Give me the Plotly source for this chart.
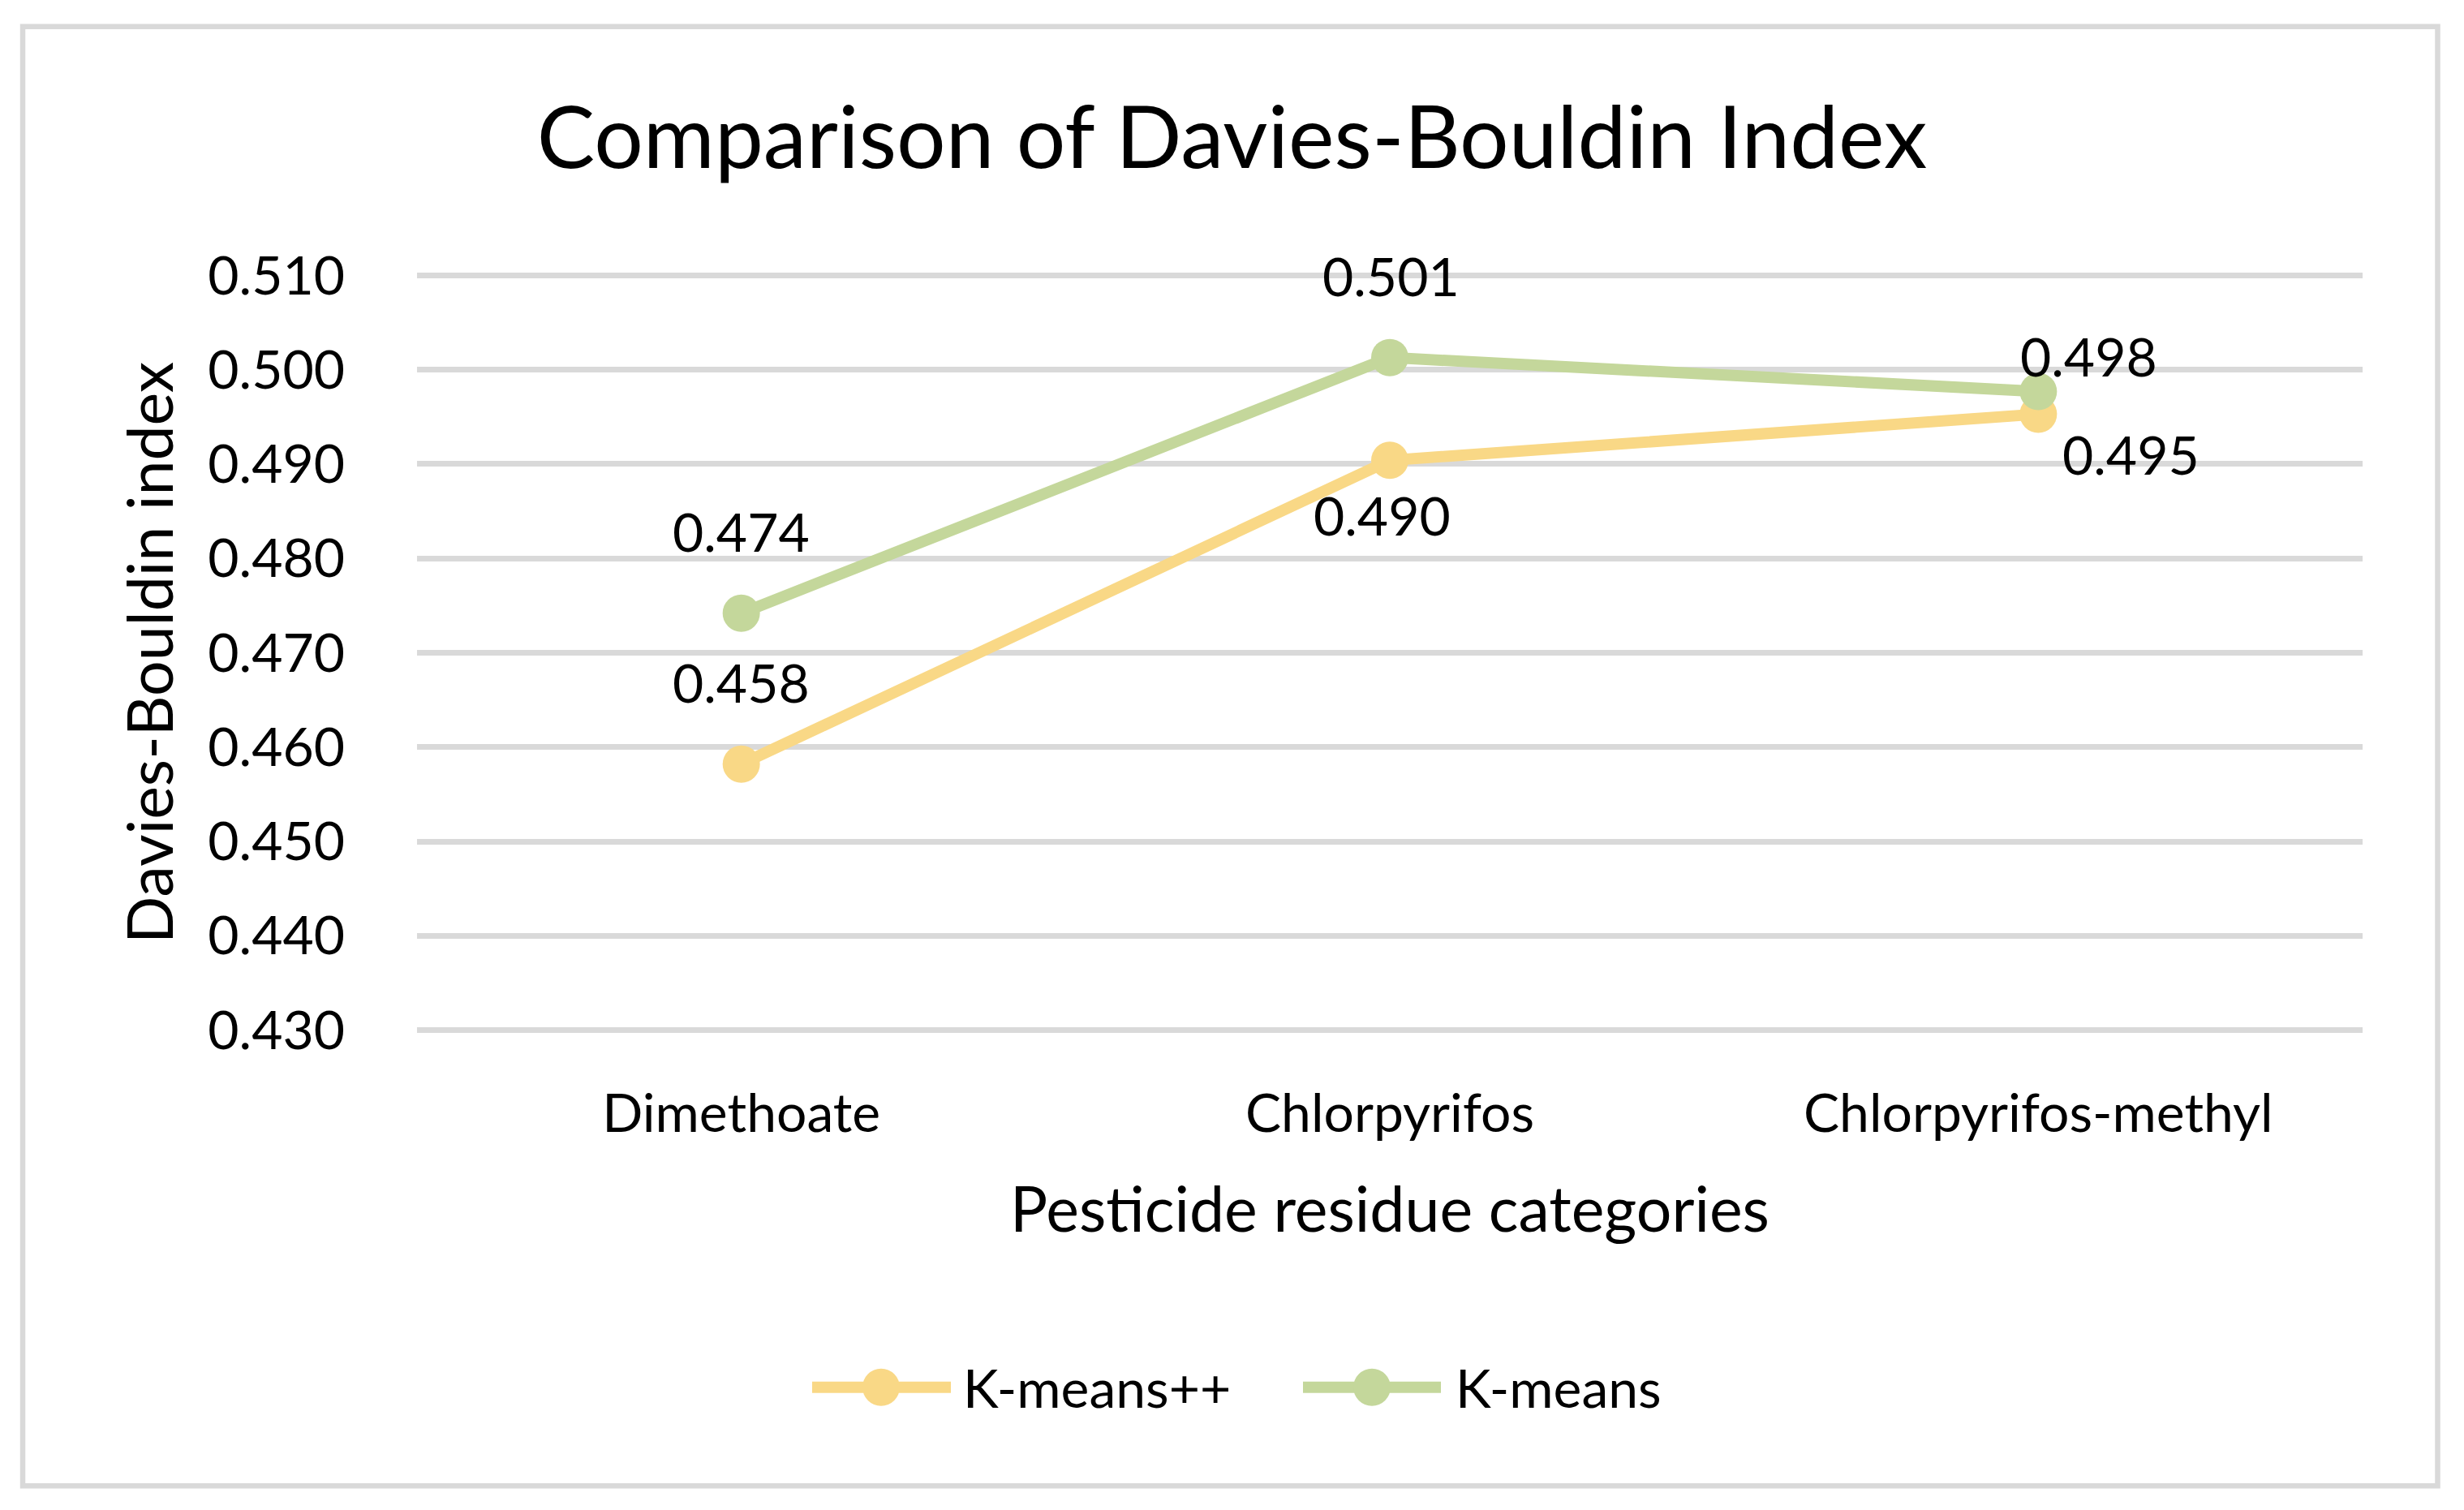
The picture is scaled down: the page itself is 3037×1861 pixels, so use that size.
import plotly.graph_objects as go

# ---- data ----
categories = ["Dimethoate", "Chlorpyrifos", "Chlorpyrifos-methyl"]
kmeanspp = [0.4582, 0.4904, 0.4953]
kmeans = [0.4742, 0.5013, 0.4977]
series_names = ["K-means++", "K-means"]
y_ticks = [0.430, 0.440, 0.450, 0.460, 0.470, 0.480, 0.490, 0.500, 0.510]

# label offsets (px) for data labels: (dx, dy up-positive)
pp_offsets = [(0, 101), (-10, -67), (114, -49)]
km_offsets = [(0, 101), (1, 101), (62, 44)]

# ---- style ----
W, H = 3037, 1861
Y_MIN, Y_MAX = 0.430, 0.510
Y_PAD = 0.0003                     # keeps edge gridlines from being clipped
PX_PER_UNIT = 930.5 / (Y_MAX - Y_MIN)
L, R = 514, 2912
T = 339 - Y_PAD * PX_PER_UNIT
B = 1269.5 + Y_PAD * PX_PER_UNIT
FONT = "Lato"
C_PP = "#F9D886"
C_KM = "#C4D79B"
GRID = "#D9D9D9"


def px_x(x):
    return (x - L) / (R - L)


def px_y(y):
    return (B - y) / (B - T)


fig = go.Figure()
for name, vals, col in [(series_names[0], kmeanspp, C_PP), (series_names[1], kmeans, C_KM)]:
    fig.add_trace(go.Scatter(
        x=categories, y=vals, name=name, mode="lines+markers",
        line=dict(color=col, width=14),
        marker=dict(color=col, size=46),
        showlegend=False, cliponaxis=False,
    ))

annotations = []
for vals, offs in [(kmeanspp, pp_offsets), (kmeans, km_offsets)]:
    for c, v, (dx, dy) in zip(categories, vals, offs):
        annotations.append(dict(
            x=c, y=v, xref="x", yref="y", text=f"{v:.3f}", showarrow=False,
            xanchor="center", yanchor="middle", xshift=dx, yshift=dy,
            font=dict(family=FONT, size=66, color="#000000"),
        ))

# custom legend (long line samples like the original)
shapes = []
legend_items = [
    (series_names[0], C_PP, 1001, 1172, 1086, 1185),
    (series_names[1], C_KM, 1606, 1776, 1691, 1792),
]
ly = 1710
for name, col, x0, x1, xm, xt in legend_items:
    shapes.append(dict(type="line", xref="paper", yref="paper",
                       x0=px_x(x0), x1=px_x(x1), y0=px_y(ly), y1=px_y(ly),
                       line=dict(color=col, width=14)))
    shapes.append(dict(type="circle", xref="paper", yref="paper",
                       x0=px_x(xm - 23), x1=px_x(xm + 23), y0=px_y(ly + 23), y1=px_y(ly - 23),
                       fillcolor=col, line=dict(width=0)))
    annotations.append(dict(x=px_x(xt), y=px_y(ly), xref="paper", yref="paper",
                            text=name, showarrow=False, xanchor="left", yanchor="middle",
                            font=dict(family=FONT, size=66, color="#000000")))

# outer chart border
shapes.append(dict(type="rect", xref="paper", yref="paper",
                   x0=px_x(28), x1=px_x(3004.5), y0=px_y(1831.5), y1=px_y(32),
                   line=dict(color=GRID, width=6.5), layer="below"))

fig.update_layout(
    width=W, height=H, autosize=False,
    margin=dict(l=L, r=W - R, t=T, b=H - B, pad=0),
    paper_bgcolor="white", plot_bgcolor="white",
    font=dict(family=FONT, color="#000000"),
    title=dict(text="Comparison of Davies-Bouldin Index", x=0.5, xanchor="center",
               y=1 - 170 / H, yanchor="middle", font=dict(size=107, family=FONT)),
    xaxis=dict(type="category", range=[-0.5, 2.5], showgrid=False, showline=False,
               zeroline=False, ticks="", ticklabelstandoff=55,
               tickfont=dict(size=66, family=FONT),
               title=dict(text="Pesticide residue categories", font=dict(size=77, family=FONT),
                          standoff=56)),
    yaxis=dict(range=[Y_MIN - Y_PAD, Y_MAX + Y_PAD], tickvals=y_ticks, tickformat=".3f",
               showgrid=True, gridcolor=GRID, gridwidth=6.5, showline=False,
               zeroline=False, ticks="", ticklabelstandoff=88,
               tickfont=dict(size=66, family=FONT),
               title=dict(text="Davies-Bouldin index", font=dict(size=77, family=FONT),
                          standoff=17)),
    annotations=annotations,
    shapes=shapes,
)

fig.write_html("out.html", config={"displayModeBar": False},
               post_script="document.body.style.margin='0';")
